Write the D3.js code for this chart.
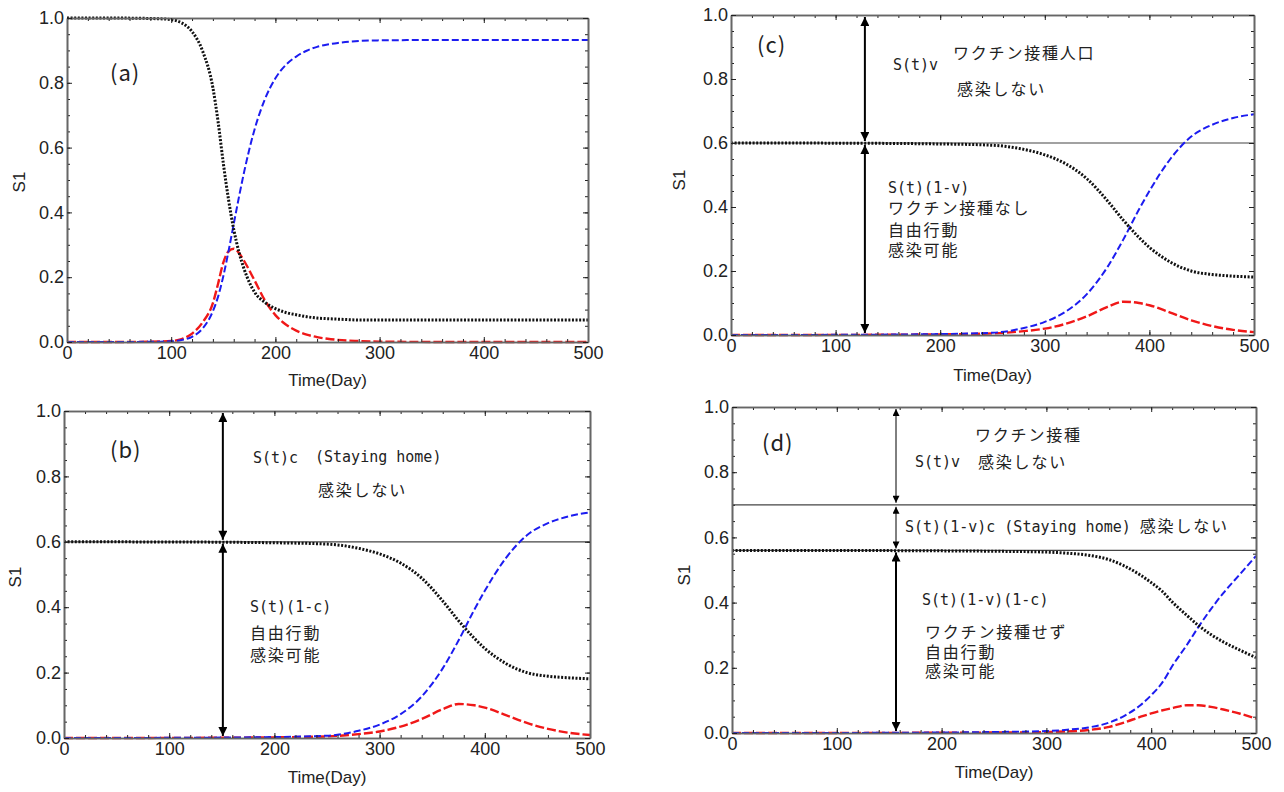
<!DOCTYPE html>
<html>
<head>
<meta charset="utf-8">
<script src="https://cdn.jsdelivr.net/npm/d3@7"></script>
<style>
body { margin: 0; background: #fff; }
text { white-space: pre; }
</style>
</head>
<body>
<svg id="chart" width="1284" height="792"></svg>
<script>
// panel (a): no behaviour change
const daysA = [0, 50, 90, 100, 110, 120, 130, 140, 145, 150, 155, 160, 165, 170, 180, 190, 200, 210, 220, 230, 240, 250, 260, 280, 300, 350, 400, 500];
const sA = [1.0, 0.9998, 0.9975, 0.995, 0.985, 0.958, 0.899, 0.785, 0.68, 0.552, 0.44, 0.348, 0.278, 0.225, 0.154, 0.122, 0.103, 0.091, 0.084, 0.078, 0.074, 0.072, 0.0705, 0.068, 0.0678, 0.068, 0.068, 0.068];
const iA = [0.0001, 0.0001, 0.0015, 0.003, 0.009, 0.026, 0.06, 0.12, 0.18, 0.245, 0.28, 0.288, 0.275, 0.25, 0.19, 0.128, 0.083, 0.054, 0.035, 0.023, 0.015, 0.01, 0.0065, 0.003, 0.0012, 0.0002, 0, 0];
const rA = [0, 0.0001, 0.001, 0.002, 0.006, 0.016, 0.041, 0.095, 0.14, 0.203, 0.28, 0.364, 0.447, 0.525, 0.656, 0.75, 0.814, 0.855, 0.881, 0.899, 0.911, 0.918, 0.923, 0.929, 0.931, 0.932, 0.932, 0.932];

// panels (b) and (c): same curves
const daysB = [0, 100, 200, 250, 280, 300, 320, 340, 360, 375, 390, 400, 420, 440, 460, 480, 500];
const sB = [0.6, 0.5995, 0.597, 0.593, 0.58, 0.563, 0.535, 0.489, 0.419, 0.359, 0.305, 0.274, 0.228, 0.2, 0.189, 0.184, 0.181];
const iB = [0, 0.0003, 0.002, 0.005, 0.012, 0.02, 0.035, 0.058, 0.088, 0.104, 0.1, 0.093, 0.07, 0.046, 0.028, 0.016, 0.009];
const rB = [0, 0.0005, 0.003, 0.007, 0.022, 0.041, 0.073, 0.127, 0.213, 0.298, 0.392, 0.45, 0.55, 0.62, 0.657, 0.678, 0.69];

// panel (d)
const daysD = [0, 100, 200, 250, 300, 320, 340, 360, 374, 390, 400, 410, 421, 434, 445, 457, 469, 485, 500];
const sD = [0.56, 0.5598, 0.5587, 0.5575, 0.555, 0.5516, 0.5454, 0.5314, 0.513, 0.4838, 0.4614, 0.4362, 0.399, 0.361, 0.33, 0.302, 0.279, 0.2537, 0.2313];
const iD = [0, 0.0002, 0.0008, 0.0015, 0.003, 0.005, 0.009, 0.019, 0.032, 0.05, 0.06, 0.069, 0.077, 0.085, 0.085, 0.08, 0.072, 0.059, 0.044];
const rD = [0, 0.0002, 0.0015, 0.003, 0.006, 0.01, 0.017, 0.032, 0.052, 0.086, 0.116, 0.152, 0.21, 0.27, 0.325, 0.38, 0.43, 0.488, 0.543];

const xTicks = [0, 100, 200, 300, 400, 500];
const yTicks = [0, 0.2, 0.4, 0.6, 0.8, 1.0];

// horizontal split levels and arrow spans
const levelsB = [0.6];
const levelsD = [0.7, 0.56];
const arrowsB = [[1.0, 0.6], [0.6, 0.0]];
const arrowsD = [[1.0, 0.7], [0.7, 0.56], [0.56, 0.0]];

const annB = ["S(t)c", "(Staying home)", "感染しない", "S(t)(1-c)", "自由行動", "感染可能"];
const annC = ["S(t)v", "ワクチン接種人口", "感染しない", "S(t)(1-v)", "ワクチン接種なし", "自由行動", "感染可能"];
const annD = ["ワクチン接種", "S(t)v", "感染しない", "S(t)(1-v)c (Staying home) 感染しない", "S(t)(1-v)(1-c)", "ワクチン接種せず", "自由行動", "感染可能"];

const panels = [
    { label: "(a)", left: 67, right: 588, top: 18, bottom: 342, days: daysA, s: sA, i: iA, r: rA,
      levels: [], arrows: [], arrowDay: 0, thin: 0, ann: [], pos: [],
      labelPos: [110, 81], s1Pos: [19, 182], timeY: 386 },
    { label: "(b)", left: 64, right: 590, top: 411, bottom: 738, days: daysB, s: sB, i: iB, r: rB,
      levels: levelsB, arrows: arrowsB, arrowDay: 151, thin: 0, ann: annB,
      pos: [[253, 463], [315, 462], [318, 496], [250, 612], [250, 639], [250, 661]],
      labelPos: [110, 458], s1Pos: [15, 577], timeY: 783 },
    { label: "(c)", left: 731, right: 1254, top: 15, bottom: 335, days: daysB, s: sB, i: iB, r: rB,
      levels: levelsB, arrows: arrowsB, arrowDay: 128, thin: 0, ann: annC,
      pos: [[893, 70], [953, 59], [957, 95], [888, 193], [888, 214], [888, 236], [888, 256]],
      labelPos: [757, 53], s1Pos: [679, 180], timeY: 381 },
    { label: "(d)", left: 732, right: 1256, top: 407, bottom: 733, days: daysD, s: sD, i: iD, r: rD,
      levels: levelsD, arrows: arrowsD, arrowDay: 156.5, thin: 2, ann: annD,
      pos: [[975, 441], [915, 467], [978, 468], [905, 532], [922, 605], [925, 638], [925, 658], [925, 677]],
      labelPos: [762, 451], s1Pos: [684, 575], timeY: 778 }
];

const svg = d3.select("#chart");

const defs = svg.append("defs");
defs.append("marker")
    .attr("id", "headBig")
    .attr("viewBox", "0 -5 10 10")
    .attr("refX", 10)
    .attr("refY", 0)
    .attr("markerUnits", "userSpaceOnUse")
    .attr("markerWidth", 11)
    .attr("markerHeight", 9)
    .attr("orient", "auto-start-reverse")
    .append("path")
    .attr("d", "M0,-5L10,0L0,5Z")
    .attr("fill", "#000");
defs.append("marker")
    .attr("id", "headSmall")
    .attr("viewBox", "0 -5 10 10")
    .attr("refX", 10)
    .attr("refY", 0)
    .attr("markerUnits", "userSpaceOnUse")
    .attr("markerWidth", 9)
    .attr("markerHeight", 7)
    .attr("orient", "auto-start-reverse")
    .append("path")
    .attr("d", "M0,-5L10,0L0,5Z")
    .attr("fill", "#000");

function addText(g, str, x, y) {
    const t = g.append("text").attr("x", x).attr("y", y).attr("fill", "#222");
    const runs = str.match(/[\x00-\x7F]+|[^\x00-\x7F]+/g);
    runs.forEach(run => {
        const ascii = /^[\x00-\x7F]+$/.test(run);
        t.append("tspan")
            .text(run)
            .attr("font-family", ascii ? "DejaVu Sans Mono" : "Noto Sans CJK JP")
            .attr("font-size", ascii ? 15 : 16)
            .attr("letter-spacing", ascii ? 0 : 1.8);
    });
}

function drawPanel(p) {
    const x = d3.scaleLinear().domain([0, 500]).range([p.left, p.right]);
    const y = d3.scaleLinear().domain([0, 1]).range([p.bottom, p.top]);
    const g = svg.append("g");

    // split levels
    p.levels.forEach(v => {
        g.append("line")
            .attr("x1", x(0)).attr("x2", x(500))
            .attr("y1", y(v)).attr("y2", y(v))
            .attr("stroke", "#444")
            .attr("stroke-width", 1.2);
    });

    // double arrows
    p.arrows.forEach((a, k) => {
        const small = k < p.thin;
        g.append("line")
            .attr("x1", x(p.arrowDay)).attr("x2", x(p.arrowDay))
            .attr("y1", y(a[0]) + 2).attr("y2", y(a[1]) - 2)
            .attr("stroke", "#000")
            .attr("stroke-width", small ? 1 : 2)
            .attr("marker-start", small ? "url(#headSmall)" : "url(#headBig)")
            .attr("marker-end", small ? "url(#headSmall)" : "url(#headBig)");
    });

    const line = vals => d3.line()
        .x((d, k) => x(p.days[k]))
        .y(d => y(d))
        .curve(d3.curveMonotoneX)(vals);

    g.append("path").attr("d", line(p.i))
        .attr("fill", "none").attr("stroke", "#f01818")
        .attr("stroke-width", 2.4).attr("stroke-dasharray", "9,3");
    g.append("path").attr("d", line(p.r))
        .attr("fill", "none").attr("stroke", "#1c1cf0")
        .attr("stroke-width", 2).attr("stroke-dasharray", "7,3");
    g.append("path").attr("d", line(p.s))
        .attr("fill", "none").attr("stroke", "#111")
        .attr("stroke-width", 3).attr("stroke-dasharray", "2,1.6");

    // axes on all four sides, ticks inward
    const styleAxis = a => {
        a.select(".domain").attr("stroke", "#666").attr("stroke-width", 1.6);
        a.selectAll(".tick line").attr("stroke", "#222");
        a.selectAll("text")
            .attr("font-family", "Liberation Sans, Arial, sans-serif")
            .attr("font-size", 18)
            .attr("fill", "#222");
    };
    const minorX = d3.range(0, 501, 20);
    const minorY = d3.range(0, 1.001, 0.05);

    g.append("g").attr("transform", `translate(0,${p.bottom})`)
        .call(d3.axisBottom(x).tickValues(minorX).tickSizeInner(-3).tickSizeOuter(0).tickFormat(""))
        .call(styleAxis);
    g.append("g").attr("transform", `translate(0,${p.bottom})`)
        .call(d3.axisBottom(x).tickValues(xTicks).tickSizeInner(-5).tickSizeOuter(0).tickPadding(4))
        .call(styleAxis);
    g.append("g").attr("transform", `translate(0,${p.top})`)
        .call(d3.axisTop(x).tickValues(minorX).tickSizeInner(-3).tickSizeOuter(0).tickFormat(""))
        .call(styleAxis);
    g.append("g").attr("transform", `translate(0,${p.top})`)
        .call(d3.axisTop(x).tickValues(xTicks).tickSizeInner(-5).tickSizeOuter(0).tickFormat(""))
        .call(styleAxis);
    g.append("g").attr("transform", `translate(${p.left},0)`)
        .call(d3.axisLeft(y).tickValues(minorY).tickSizeInner(-3).tickSizeOuter(0).tickFormat(""))
        .call(styleAxis);
    g.append("g").attr("transform", `translate(${p.left},0)`)
        .call(d3.axisLeft(y).tickValues(yTicks).tickSizeInner(-5).tickSizeOuter(0).tickPadding(3).tickFormat(d3.format(".1f")))
        .call(styleAxis);
    g.append("g").attr("transform", `translate(${p.right},0)`)
        .call(d3.axisRight(y).tickValues(minorY).tickSizeInner(-3).tickSizeOuter(0).tickFormat(""))
        .call(styleAxis);
    g.append("g").attr("transform", `translate(${p.right},0)`)
        .call(d3.axisRight(y).tickValues(yTicks).tickSizeInner(-5).tickSizeOuter(0).tickFormat(""))
        .call(styleAxis);

    // axis titles
    g.append("text")
        .attr("transform", `translate(${p.s1Pos[0]},${p.s1Pos[1]}) rotate(-90)`)
        .attr("text-anchor", "middle")
        .attr("dy", "0.35em")
        .attr("font-family", "Liberation Sans, Arial, sans-serif")
        .attr("font-size", 17)
        .attr("fill", "#222")
        .text("S1");
    g.append("text")
        .attr("x", (p.left + p.right) / 2)
        .attr("y", p.timeY)
        .attr("text-anchor", "middle")
        .attr("font-family", "Liberation Sans, Arial, sans-serif")
        .attr("font-size", 17)
        .attr("fill", "#222")
        .text("Time(Day)");

    // panel label
    g.append("text")
        .attr("x", p.labelPos[0])
        .attr("y", p.labelPos[1])
        .attr("font-family", "Noto Sans CJK JP")
        .attr("font-size", 22)
        .attr("letter-spacing", 1)
        .attr("fill", "#222")
        .text(p.label);

    p.ann.forEach((str, k) => addText(g, str, p.pos[k][0], p.pos[k][1]));
}

panels.forEach(drawPanel);
</script>
</body>
</html>
